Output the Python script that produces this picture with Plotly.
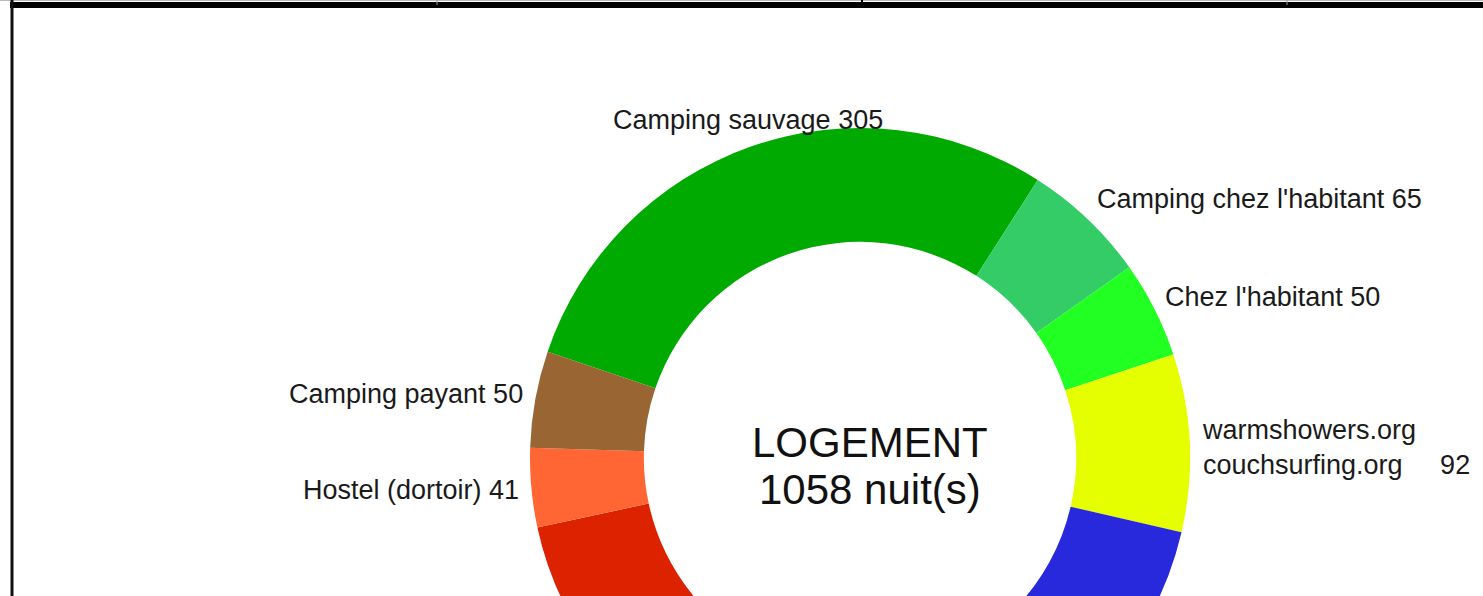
import math
import plotly.graph_objects as go

# ---- data ----
labels = ["Camping sauvage", "Camping chez l'habitant", "Chez l'habitant",
          "warmshowers.org<br>couchsurfing.org", "Hôtel", "Autre",
          "Chambre privée", "Hostel (dortoir)", "Camping payant"]
values = [305, 65, 50, 92, 185, 110, 160, 41, 50]
colors = ["#00AA00", "#33CC66", "#22FF22", "#E6FF00", "#2828DC", "#9933CC",
          "#DD2200", "#FF6633", "#996633"]
center_title = "LOGEMENT"
center_unit = "nuit(s)"

# ---- geometry (pixels) ----
W, H = 1483, 916
VIEW_H = 596
CX, CY, R = 860, 458, 330
HOLE = 0.655
START = -71.2          # first slice starts here (deg, clockwise from 12 o'clock)
LABEL_RX = 340
LABEL_RY = 358
TEXT_DX = 10

FONT = "Liberation Sans, Arial, sans-serif"


def px(x):
    return x / W


def py(y):
    return 1 - y / H


fig = go.Figure(go.Pie(
    labels=labels, values=values, sort=False, direction="clockwise",
    rotation=START, hole=HOLE,
    marker=dict(colors=colors, line=dict(width=0)),
    textinfo="none", hoverinfo="label+value", showlegend=False,
    domain=dict(x=[px(CX - R), px(CX + R)], y=[py(CY + R), py(CY - R)]),
))

annotations = []
total = sum(values)
cum = START
for lab, v in zip(labels, values):
    a0 = cum
    a1 = cum + v / total * 360
    cum = a1
    t = math.radians((a0 + a1) / 2)
    s, c = math.sin(t), math.cos(t)
    x = CX + LABEL_RX * s
    y = CY - LABEL_RY * c
    if y > VIEW_H - 40:
        continue  # label lies in the part of the chart outside the visible frame
    if s > 0.4:
        xa = "left"
    elif s < -0.4:
        xa = "right"
    else:
        xa = "center"
    if "<br>" in lab:
        text = lab + "\u00a0" * 5 + str(v)
        y += 6
    else:
        text = f"{lab} {v}"
    annotations.append(dict(
        x=px(x), y=py(y), xref="paper", yref="paper", text=text,
        showarrow=False, xanchor=xa, yanchor="middle", align="left",
        font=dict(family=FONT, size=27, color="#1a1a1a"),
    ))

annotations.append(dict(
    x=px(CX + TEXT_DX), y=py(CY - 15), xref="paper", yref="paper", text=center_title,
    showarrow=False, xanchor="center", yanchor="middle",
    font=dict(family=FONT, size=42, color="#111111"),
))
annotations.append(dict(
    x=px(CX + TEXT_DX), y=py(CY + 31), xref="paper", yref="paper",
    text=f"{total} {center_unit}",
    showarrow=False, xanchor="center", yanchor="middle",
    font=dict(family=FONT, size=42, color="#111111"),
))

shapes = [
    dict(type="line", xref="paper", yref="paper", x0=0, x1=1, y0=py(0.5), y1=py(0.5),
         line=dict(color="#BBBBBB", width=1)),
    dict(type="line", xref="paper", yref="paper", x0=px(10), x1=1, y0=py(5), y1=py(5),
         line=dict(color="#000000", width=6)),
    dict(type="line", xref="paper", yref="paper", x0=px(12), x1=px(12), y0=0, y1=1,
         line=dict(color="#111111", width=3)),
    dict(type="line", xref="paper", yref="paper", x0=px(862), x1=px(862), y0=py(0), y1=py(5),
         line=dict(color="#000000", width=2)),
    dict(type="line", xref="paper", yref="paper", x0=px(437), x1=px(437), y0=py(0), y1=py(5),
         line=dict(color="#999999", width=1)),
    dict(type="line", xref="paper", yref="paper", x0=px(1287), x1=px(1287), y0=py(0), y1=py(5),
         line=dict(color="#999999", width=1)),
]

fig.update_layout(
    width=W, height=H, margin=dict(l=0, r=0, t=0, b=0),
    paper_bgcolor="white", plot_bgcolor="white",
    annotations=annotations, shapes=shapes,
)

fig.write_html("out.html", config={"displayModeBar": False},
               post_script="document.body.style.margin='0';document.body.style.overflow='hidden';")
